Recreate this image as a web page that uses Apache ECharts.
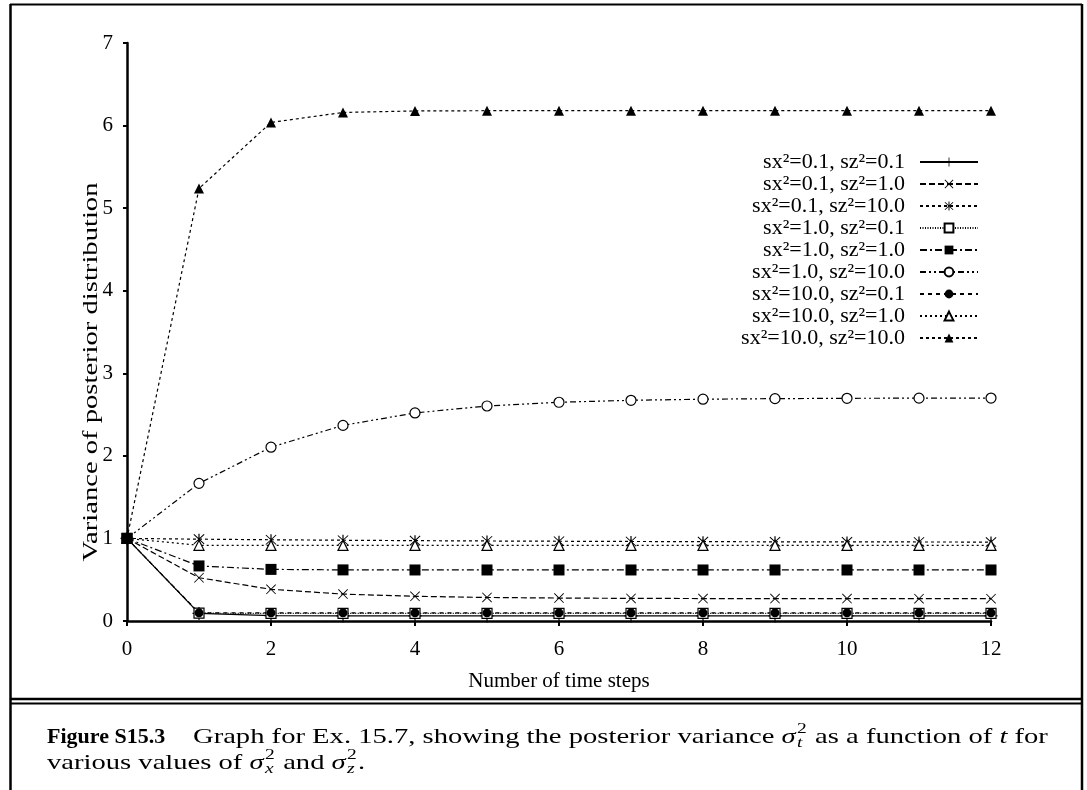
<!DOCTYPE html>
<html><head><meta charset="utf-8">
<script src="https://cdn.jsdelivr.net/npm/echarts@6/dist/echarts.min.js"></script>
<style>html,body{margin:0;padding:0;background:#fff}#c{width:1087px;height:790px}</style>
</head><body><div id="c"></div>
<script>
// ---- data ----
const steps = [0, 1, 2, 3, 4, 5, 6, 7, 8, 9, 10, 11, 12];
const seriesNames = [
  'sx²=0.1, sz²=0.1', 'sx²=0.1, sz²=1.0', 'sx²=0.1, sz²=10.0',
  'sx²=1.0, sz²=0.1', 'sx²=1.0, sz²=1.0', 'sx²=1.0, sz²=10.0',
  'sx²=10.0, sz²=0.1', 'sx²=10.0, sz²=1.0', 'sx²=10.0, sz²=10.0'
];
const v_01_01  = [1, 0.092, 0.066, 0.062, 0.062, 0.062, 0.062, 0.062, 0.062, 0.062, 0.062, 0.062, 0.062];
const v_01_1   = [1, 0.524, 0.384, 0.326, 0.299, 0.285, 0.278, 0.274, 0.272, 0.271, 0.271, 0.270, 0.270];
const v_01_10  = [1, 0.991, 0.984, 0.978, 0.973, 0.969, 0.966, 0.963, 0.961, 0.959, 0.958, 0.957, 0.956];
const v_1_01   = [1, 0.095, 0.092, 0.092, 0.092, 0.092, 0.092, 0.092, 0.092, 0.092, 0.092, 0.092, 0.092];
const v_1_1    = [1, 0.667, 0.625, 0.619, 0.618, 0.618, 0.618, 0.618, 0.618, 0.618, 0.618, 0.618, 0.618];
const v_1_10   = [1, 1.667, 2.105, 2.369, 2.520, 2.604, 2.649, 2.673, 2.686, 2.693, 2.697, 2.699, 2.700];
const v_10_01  = [1, 0.099, 0.099, 0.099, 0.099, 0.099, 0.099, 0.099, 0.099, 0.099, 0.099, 0.099, 0.099];
const v_10_1   = [1, 0.917, 0.916, 0.916, 0.916, 0.916, 0.916, 0.916, 0.916, 0.916, 0.916, 0.916, 0.916];
const v_10_10  = [1, 5.238, 6.038, 6.159, 6.177, 6.180, 6.180, 6.180, 6.180, 6.180, 6.180, 6.180, 6.180];
const allValues = [v_01_01, v_01_1, v_01_10, v_1_01, v_1_1, v_1_10, v_10_01, v_10_1, v_10_10];
const xTitle = 'Number of time steps';
const yTitle = 'Variance of posterior distribution';

// ---- styles ----
const FONT = '"Liberation Serif", "Times New Roman", serif';
const PLUS = 'path://M-0.09,-1L0.09,-1L0.09,1L-0.09,1Z M-1,-0.09L1,-0.09L1,0.09L-1,0.09Z';
const CROSS = 'path://M-0.88,-1L1,0.88L0.88,1L-1,-0.88Z M0.88,-1L1,-0.88L-0.88,1L-1,0.88Z';
const STAR = 'path://M-0.1,-1L0.1,-1L0.1,1L-0.1,1Z M-0.8,-0.92L0.92,0.8L0.8,0.92L-0.92,-0.8Z M0.8,-0.92L0.92,-0.8L-0.8,0.92L-0.92,0.8Z';
const styles = [
  {sym: PLUS, size: 13, dash: 'solid', open: false},
  {sym: CROSS, size: 10, dash: [6, 3], open: false},
  {sym: STAR, size: 11, dash: [3, 3], open: false},
  {sym: 'rect', size: 10, dash: [1, 1.5], open: true},
  {sym: 'rect', size: 11, dash: [7, 3, 2, 3], open: false, z: 3},
  {sym: 'circle', size: 10, dash: [6, 3, 2, 3, 2, 3], open: true},
  {sym: 'circle', size: 9, dash: [4, 4], open: false},
  {sym: 'triangle', size: 10, dash: [2, 3], open: true},
  {sym: 'triangle', size: 10, dash: [3, 3], open: false}
];

const series = allValues.map((vals, i) => {
  const st = styles[i];
  return {
    name: seriesNames[i],
    type: 'line',
    data: steps.map((t, k) => [t, vals[k]]),
    symbol: st.sym,
    symbolSize: st.size,
    showAllSymbol: true,
    z: st.z || 2,
    color: '#000',
    lineStyle: {color: '#000', width: 1.2, type: st.dash},
    itemStyle: st.open ? {color: '#fff', borderColor: '#000', borderWidth: 1.2}
                       : {color: '#000', borderColor: '#000', borderWidth: 0},
    emphasis: {disabled: true},
    animation: false
  };
});

// ---- caption built from measured text ----
const ctx = document.createElement('canvas').getContext('2d');
function tw(text, font) { ctx.font = font; return ctx.measureText(text).width; }
const CAP = 22, SMALL = 15, SX = 1.3;
function fnt(size, style, weight) { return (style || 'normal') + ' ' + (weight || 'normal') + ' ' + size + 'px "Liberation Serif"'; }
function textEl(x, y, text, font, sx) {
  return {type: 'text', x: x, y: y, scaleX: sx, silent: true,
    style: {text: text, font: font, fill: '#000', align: 'left', verticalAlign: 'middle'}};
}
function captionLine(x0, y, parts, sx) {
  const els = []; let x = x0;
  parts.forEach(p => {
    if (p.m) {
      const fb = fnt(CAP, 'italic');
      els.push(textEl(x, y, p.m[0], fb, sx));
      x += (tw(p.m[0], fb) + 1) * sx;
      const fs = fnt(SMALL), fi = fnt(SMALL, 'italic');
      els.push(textEl(x, y - 8, p.m[1], fs, sx));
      els.push(textEl(x, y + 6, p.m[2], fi, sx));
      x += (Math.max(tw(p.m[1], fs), tw(p.m[2], fi)) + 1) * sx;
    } else {
      const f = fnt(CAP, p.s, p.w);
      els.push(textEl(x, y, p.t, f, sx));
      x += tw(p.t, f) * sx;
    }
  });
  return els;
}
const captionEls = [].concat(
  captionLine(47, 737, [{t: 'Figure S15.3', w: 'bold'}], 1),
  captionLine(193, 737, [{t: 'Graph for Ex. 15.7, showing the posterior variance '}, {m: ['σ', '2', 't']},
                         {t: ' as a function of '}, {t: 't', s: 'italic'}, {t: ' for'}], SX),
  captionLine(47, 763, [{t: 'various values of '}, {m: ['σ', '2', 'x']}, {t: ' and '}, {m: ['σ', '2', 'z']}, {t: '.'}], SX)
);

function hline(x1, x2, y, w) { return {type: 'line', silent: true, shape: {x1: x1, y1: y, x2: x2, y2: y}, style: {stroke: '#000', lineWidth: w}}; }
function vline(x, y1, y2, w) { return {type: 'line', silent: true, shape: {x1: x, y1: y1, x2: x, y2: y2}, style: {stroke: '#000', lineWidth: w}}; }

const chart = echarts.init(document.getElementById('c'), null, {renderer: 'canvas'});
chart.setOption({
  backgroundColor: '#fff',
  animation: false,
  grid: {left: 127, right: 96, top: 43, bottom: 169, containLabel: false},
  xAxis: {
    type: 'value', min: 0, max: 12, interval: 2,
    name: xTitle, nameLocation: 'middle', nameGap: 50,
    nameTextStyle: {fontFamily: FONT, fontSize: 21, color: '#000'},
    axisLine: {show: true, lineStyle: {color: '#000', width: 2.5}},
    axisTick: {show: true, inside: false, length: 5, lineStyle: {color: '#000', width: 2}},
    axisLabel: {fontFamily: FONT, fontSize: 21, color: '#000', margin: 18},
    splitLine: {show: false}
  },
  yAxis: {
    type: 'value', min: 0, max: 7, interval: 1,
    axisLine: {show: true, lineStyle: {color: '#000', width: 2.5}},
    axisTick: {show: true, inside: false, length: 4, lineStyle: {color: '#000', width: 2}},
    axisLabel: {fontFamily: FONT, fontSize: 21, color: '#000', margin: 14},
    splitLine: {show: false}
  },
  legend: {
    data: seriesNames,
    orient: 'vertical', right: 108, top: 151, align: 'right', padding: 0,
    itemWidth: 58, itemHeight: 11, itemGap: 0,
    selectedMode: false,
    textStyle: {fontFamily: FONT, fontSize: 22, color: '#000', lineHeight: 21, padding: [0, 10, 0, 0]}
  },
  series: series,
  graphic: [
    {type: 'text', x: 91, y: 372, rotation: Math.PI / 2, scaleX: 1.3, silent: true,
     style: {text: yTitle, font: '22px "Liberation Serif"', fill: '#000', align: 'center', verticalAlign: 'middle'}},
    hline(10, 1082, 4.5, 2),
    vline(10.5, 4, 790, 2.5),
    vline(1082, 4, 790, 2.5),
    hline(10, 1082, 699, 2.5),
    hline(10, 1082, 703.5, 2)
  ].concat(captionEls)
});
</script>
</body></html>
